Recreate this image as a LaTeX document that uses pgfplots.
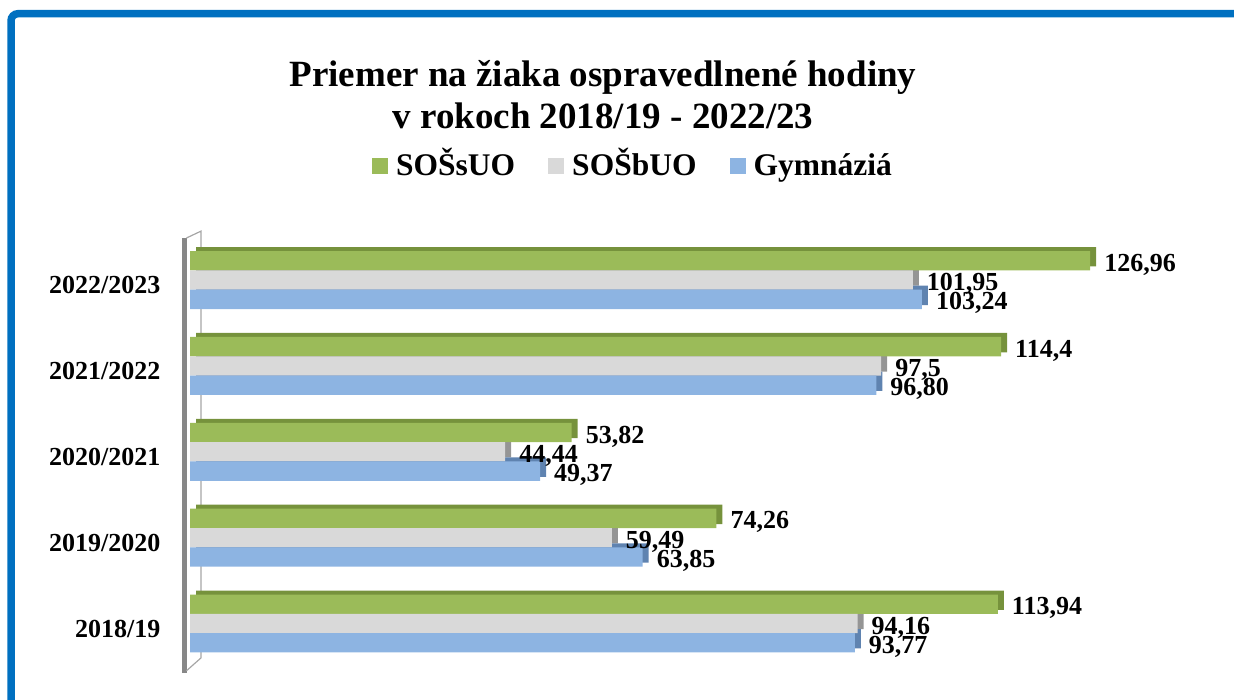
\documentclass[border=0pt]{standalone}
\usepackage{fontspec}
\setmainfont{Liberation Serif}
\usepackage{pgfplots}
\usepackage{pgfplotstable}
\pgfplotsset{compat=1.18}
\definecolor{cgreen}{HTML}{9BBB59}
\definecolor{cgreendark}{HTML}{76923C}
\definecolor{cgrey}{HTML}{D9D9D9}
\definecolor{cgreydark}{HTML}{959595}
\definecolor{cblue}{HTML}{8DB4E2}
\definecolor{cbluedark}{HTML}{5F83B0}
\definecolor{wallgray}{HTML}{878787}
\definecolor{wallback}{HTML}{A6A6A6}
\definecolor{frameblue}{HTML}{0070C0}

\pgfplotstableread{
y val lab
0 126.96 126,96
1 114.4 114,4
2 53.82 53,82
3 74.26 74,26
4 113.94 113,94
}\tgreen
\pgfplotstableread{
y val lab
0 101.95 101,95
1 97.5 97,5
2 44.44 44,44
3 59.49 59,49
4 94.16 94,16
}\tgrey
\pgfplotstableread{
y val lab
0 103.24 103,24
1 96.80 96,80
2 49.37 49,37
3 63.85 63,85
4 93.77 93,77
}\tblue

\pgfplotsset{
  sqlegend/.style={legend image code/.code={\fill[##1] (0pt,-6.5pt) rectangle (16pt,9.5pt);}},
  vlabels/.style={point meta=explicit symbolic, nodes near coords,
    nodes near coords style={anchor=base west, inner sep=0pt, xshift=14pt, yshift=-10.5pt,
      font=\fontsize{26}{26}\selectfont\bfseries, text=black}},
}

\begin{document}
\begin{tikzpicture}
\useasboundingbox (0,0) rectangle (1234pt,700pt);
\draw[color=frameblue, line width=7.5pt, rounded corners=7pt] (11pt,-40pt) -- (11pt,686.3pt) -- (1290pt,686.3pt);
\begin{axis}[
  at={(184.5pt,27pt)}, anchor=south west,
  scale only axis, width=998pt, height=435pt,
  xmin=-0.78, xmax=140, ymin=-0.49, ymax=4.576,
  y dir=reverse,
  xbar, bar width=19.3pt,
  axis x line=none, axis y line*=left,
  y axis line style={line width=5pt, color=wallgray, -},
  ytick={0,1,2,3,4},
  yticklabels={2022/2023,2021/2022,2020/2021,2019/2020,2018/19},
  major tick length=0pt,
  yticklabel style={font=\fontsize{26}{26}\selectfont\bfseries, anchor=base east, inner sep=0pt, xshift=-24pt, yshift=-13.5pt},
  clip=false,
  title={Priemer na žiaka ospravedlnené hodiny\\v rokoch 2018/19 - 2022/23},
  title style={at={(0.4193,1.3938)}, anchor=north, inner sep=0pt, align=center, font=\fontsize{37}{42}\selectfont\bfseries},
  legend columns=3,
  legend style={at={(0.4484,1.1609)}, anchor=center, draw=none, fill=none, inner sep=0pt,
    font=\fontsize{31.5}{32}\selectfont\bfseries,
    nodes={inner sep=0pt, text height=22pt, text depth=7pt},
    /tikz/every even column/.append style={column sep=33pt},
    /tikz/every odd column/.append style={column sep=8pt}},
  legend cell align=left,
]
% back wall edge
\draw[wallback, line width=1.2pt] (axis cs:-0.5,-0.49) -- (axis cs:1.55,-0.57) -- (axis cs:1.55,4.40) -- (axis cs:-0.5,4.55);
% depth faces
\addplot[fill=cgreendark, draw=none, bar shift=23.3pt, xshift=6pt, forget plot] table[x=val,y=y] {\tgreen};
\addplot[fill=cgreydark, draw=none, bar shift=4pt, xshift=6pt, forget plot] table[x=val,y=y] {\tgrey};
\addplot[fill=cbluedark, draw=none, bar shift=-15.3pt, xshift=6pt, forget plot] table[x=val,y=y] {\tblue};
% front faces
\addplot[fill=cgreen, draw=none, bar shift=19.3pt, sqlegend, vlabels] table[x=val,y=y,meta=lab] {\tgreen};
\addlegendentry{SOŠsUO}
\addplot[fill=cgrey, draw=none, bar shift=0pt, sqlegend, vlabels] table[x=val,y=y,meta=lab] {\tgrey};
\addlegendentry{SOŠbUO}
\addplot[fill=cblue, draw=none, bar shift=-19.3pt, sqlegend, vlabels] table[x=val,y=y,meta=lab] {\tblue};
\addlegendentry{Gymnáziá}
\end{axis}
\end{tikzpicture}
\end{document}
